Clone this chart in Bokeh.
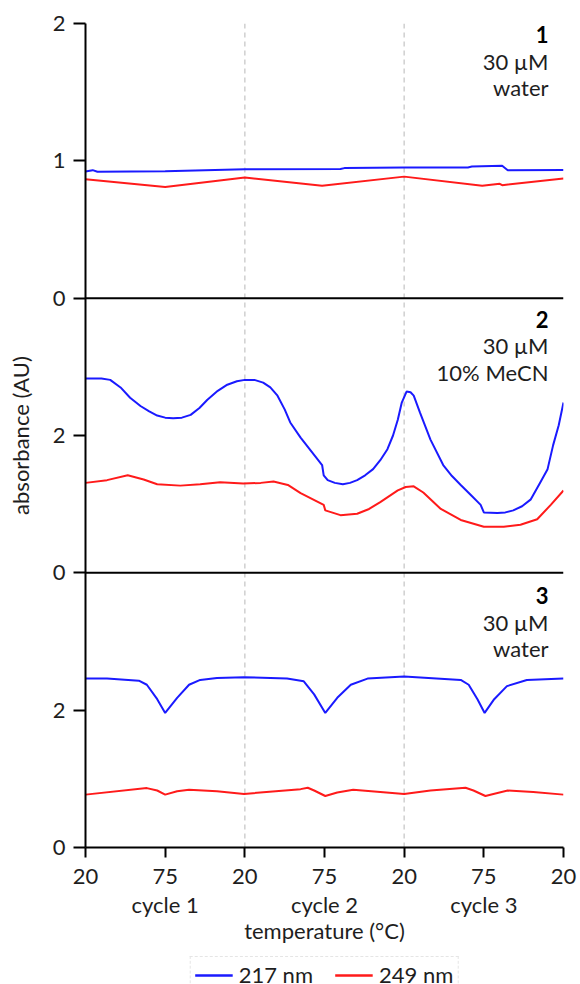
from bokeh.plotting import figure
from bokeh.layouts import column
from bokeh.models import Range1d, LinearAxis, FixedTicker, Span, Label, Legend, LegendItem
from bokeh.embed import file_html
from bokeh.resources import INLINE

# ---------------- data ----------------
x_ticks = [0, 1, 2, 3, 4, 5, 6]
x_tick_labels = ["20", "75", "20", "75", "20", "75", "20"]
cycle_ticks = [1, 3, 5]
cycle_labels = ["cycle 1", "cycle 2", "cycle 3"]
y_ticks = [0, 2, 4, 6, 8, 10, 12]
y_tick_labels = ["0", "2", "0", "2", "0", "1", "2"]
series_names = ["217 nm", "249 nm"]

panel_titles = ["1", "2", "3"]
panel_line2 = ["30 µM", "30 µM", "30 µM"]
panel_line3 = ["water", "10% MeCN", "water"]

# panel 1 (30 µM, water)
p1_x_217 = [0, 0.09, 0.15, 1.0, 2.0, 3.2, 3.25, 4.0, 4.8, 4.85, 5.23, 5.3, 6.0]
p1_y_217 = [0.922, 0.932, 0.92, 0.925, 0.938, 0.94, 0.947, 0.951, 0.952, 0.958, 0.964, 0.932, 0.934]
p1_x_249 = [0, 1.0, 2.0, 2.97, 4.0, 4.98, 5.2, 5.23, 6.0]
p1_y_249 = [0.866, 0.81, 0.878, 0.818, 0.885, 0.818, 0.833, 0.823, 0.871]

# panel 2 (30 µM, 10% MeCN)
p2_x_217 = [0, 0.2, 0.31, 0.44, 0.56, 0.69, 0.80, 0.90, 1.0, 1.10, 1.21, 1.32, 1.43, 1.53, 1.66,
            1.78, 1.90, 2.0, 2.12, 2.23, 2.32, 2.41, 2.50, 2.57, 2.70,
            2.97, 2.99, 3.04, 3.13, 3.23, 3.32, 3.41, 3.51, 3.61, 3.70, 3.79, 3.86, 3.92, 3.97,
            4.03, 4.08, 4.12, 4.20, 4.33, 4.49, 4.60, 4.71, 4.84, 4.96, 5.0, 5.17, 5.27, 5.37,
            5.48, 5.59, 5.71, 5.80, 5.87, 5.94, 6.0]
p2_y_217 = [2.83, 2.83, 2.81, 2.70, 2.55, 2.43, 2.35, 2.29, 2.26, 2.25, 2.26, 2.30, 2.40, 2.52, 2.65,
            2.74, 2.79, 2.81, 2.81, 2.77, 2.70, 2.58, 2.38, 2.19, 1.97,
            1.57, 1.42, 1.35, 1.31, 1.29, 1.31, 1.35, 1.42, 1.51, 1.64, 1.80, 2.00, 2.23, 2.48,
            2.64, 2.63, 2.58, 2.33, 1.94, 1.57, 1.41, 1.28, 1.13, 0.99, 0.88, 0.87, 0.88, 0.91,
            0.97, 1.07, 1.32, 1.51, 1.86, 2.15, 2.48]
p2_x_249 = [0, 0.27, 0.53, 0.73, 0.90, 1.19, 1.44, 1.69, 1.98, 2.20, 2.36, 2.54, 2.70, 2.99,
            3.01, 3.20, 3.41, 3.56, 3.70, 3.92, 4.02, 4.12, 4.24, 4.46, 4.71, 5.0, 5.25, 5.46,
            5.67, 5.84, 6.0]
p2_y_249 = [1.31, 1.35, 1.42, 1.36, 1.29, 1.27, 1.29, 1.32, 1.30, 1.31, 1.33, 1.28, 1.16, 0.99,
            0.91, 0.84, 0.86, 0.93, 1.03, 1.20, 1.25, 1.26, 1.17, 0.93, 0.77, 0.67, 0.67, 0.70,
            0.78, 0.99, 1.20]

# panel 3 (30 µM, water)
p3_x_217 = [0, 0.27, 0.67, 0.77, 0.90, 1.0, 1.15, 1.30, 1.44, 1.65, 1.99, 2.53, 2.74, 2.87,
            3.01, 3.16, 3.33, 3.54, 4.0, 4.71, 4.81, 4.92, 5.01, 5.13, 5.29, 5.54, 6.0]
p3_y_217 = [2.46, 2.46, 2.43, 2.37, 2.16, 1.96, 2.18, 2.37, 2.44, 2.47, 2.48, 2.46, 2.42, 2.23,
            1.96, 2.18, 2.37, 2.46, 2.49, 2.44, 2.37, 2.16, 1.96, 2.16, 2.35, 2.44, 2.46]
p3_x_249 = [0, 0.77, 0.90, 1.0, 1.15, 1.30, 1.65, 1.99, 2.70, 2.79, 2.87, 3.01, 3.16, 3.36,
            3.70, 4.0, 4.33, 4.77, 4.87, 5.02, 5.12, 5.30, 5.62, 6.0]
p3_y_249 = [0.77, 0.865, 0.83, 0.77, 0.82, 0.84, 0.82, 0.78, 0.85, 0.87, 0.83, 0.75, 0.80, 0.84,
            0.81, 0.78, 0.83, 0.87, 0.83, 0.75, 0.78, 0.83, 0.81, 0.77]

BLUE = "#1a1aff"
RED = "#ff1a1a"
FONT = "Lato"
TXT = "#1e1e1e"
FS = "22px"

p = figure(frame_width=478, frame_height=824,
           x_range=Range1d(0, 6), y_range=Range1d(0, 12),
           output_backend="svg", toolbar_location=None,
           min_border_left=85, min_border_right=17, min_border_top=23, min_border_bottom=108)
p.extra_y_ranges = {"p1": Range1d(-4, 2), "p2": Range1d(-4, 8), "p3": Range1d(0, 12)}
p.xgrid.visible = False
p.ygrid.visible = False
p.outline_line_color = None

# dashed cycle separators
for loc in [2, 4]:
    p.add_layout(Span(location=loc, dimension="height", line_color="#cfcfcf",
                      line_dash="5 4", line_width=1.5, level="underlay"))
# panel separators
for loc in [4, 8]:
    p.add_layout(Span(location=loc, dimension="width", line_color="black", line_width=2))

p.line(p1_x_217, p1_y_217, y_range_name="p1", line_color=BLUE, line_width=2)
p.line(p1_x_249, p1_y_249, y_range_name="p1", line_color=RED, line_width=2)
p.line(p2_x_217, p2_y_217, y_range_name="p2", line_color=BLUE, line_width=2)
p.line(p2_x_249, p2_y_249, y_range_name="p2", line_color=RED, line_width=2)
p.line(p3_x_217, p3_y_217, y_range_name="p3", line_color=BLUE, line_width=2)
p.line(p3_x_249, p3_y_249, y_range_name="p3", line_color=RED, line_width=2)

# y axis
ya = p.yaxis[0]
ya.ticker = FixedTicker(ticks=y_ticks)
ya.major_label_overrides = {t: l for t, l in zip(y_ticks, y_tick_labels)}
ya.axis_label = "absorbance (AU)"
ya.axis_label_standoff = 16
ya.axis_label_text_font = FONT
ya.axis_label_text_font_size = FS
ya.axis_label_text_font_style = "normal"
ya.axis_label_text_color = TXT

# x axis
xa = p.xaxis[0]
xa.ticker = FixedTicker(ticks=x_ticks)
xa.major_label_overrides = {t: l for t, l in zip(x_ticks, x_tick_labels)}

for ax in (ya, xa):
    ax.axis_line_width = 2
    ax.axis_line_color = "black"
    ax.major_tick_line_width = 2
    ax.major_tick_line_color = "black"
    ax.major_tick_in = 0
    ax.minor_tick_line_color = None
    ax.major_label_text_font = FONT
    ax.major_label_text_font_size = FS
    ax.major_label_text_color = TXT
ya.major_tick_out = 12
ya.major_label_standoff = 8
xa.major_tick_out = 10
xa.major_label_standoff = 11

# cycle labels + axis title
ca = LinearAxis(ticker=FixedTicker(ticks=cycle_ticks),
                major_label_overrides={t: l for t, l in zip(cycle_ticks, cycle_labels)},
                axis_line_color=None, major_tick_line_color=None, minor_tick_line_color=None,
                major_tick_out=0, major_tick_in=0, major_label_standoff=4,
                major_label_text_font=FONT, major_label_text_font_size=FS,
                major_label_text_color=TXT,
                axis_label="temperature (°C)", axis_label_standoff=-4,
                axis_label_text_font=FONT, axis_label_text_font_size=FS,
                axis_label_text_font_style="normal", axis_label_text_color=TXT)
p.add_layout(ca, "below")

# panel annotations
panel_tops = [12, 8, 4]
first_offsets = [-11, -21, -23]
for top, off, t1, t2, t3 in zip(panel_tops, first_offsets, panel_titles, panel_line2, panel_line3):
    for k, (txt, style) in enumerate([(t1, "bold"), (t2, "normal"), (t3, "normal")]):
        p.add_layout(Label(x=6, y=top, x_offset=-15, y_offset=off - 26.5 * k, text=txt,
                           text_align="right", text_baseline="alphabetic",
                           text_font=FONT, text_font_size=FS, text_font_style=style,
                           text_color="black" if k == 0 else TXT))

# legend strip underneath (its bottom runs past the page, as in the reference)
lg = figure(frame_width=478, frame_height=50, x_range=Range1d(0, 1), y_range=Range1d(0, 1),
            output_backend="svg", toolbar_location=None,
            min_border_left=85, min_border_right=17, min_border_top=0, min_border_bottom=0)
lg.axis.visible = False
lg.xgrid.visible = False
lg.ygrid.visible = False
lg.outline_line_color = None
nan = float("nan")
k1 = lg.line([nan], [nan], line_color=BLUE, line_width=2.5)
k2 = lg.line([nan], [nan], line_color=RED, line_width=2.5)
legend = Legend(items=[LegendItem(label=series_names[0], renderers=[k1]),
                       LegendItem(label=series_names[1], renderers=[k2])],
                orientation="horizontal", location="top_center",
                border_line_color="#cccccc", border_line_dash="4 3", border_line_width=1.5,
                label_text_font=FONT, label_text_font_size=FS, label_text_color=TXT,
                glyph_width=38, spacing=22, padding=4, margin=1, label_standoff=6)
lg.add_layout(legend, "center")

layout = column(p, lg, spacing=0)
open("out.html", "w").write(file_html(layout, INLINE))
